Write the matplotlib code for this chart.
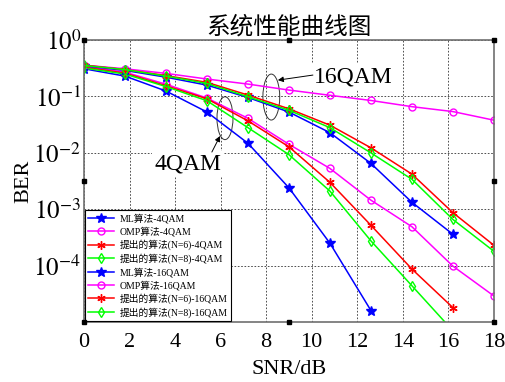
import numpy as np
import matplotlib
matplotlib.use("Agg")
import matplotlib.pyplot as plt
from matplotlib.patches import Ellipse

plt.rcParams['font.family'] = ['Liberation Serif', 'Noto Sans CJK SC']
plt.rcParams['mathtext.fontset'] = 'stix'

snr = [0, 1.8, 3.6, 5.4, 7.2, 9.0, 10.8, 12.6, 14.4, 16.2, 18.0]

ml_4qam = [0.31, 0.23, 0.125, 0.053, 0.0148, 0.0024, 2.5e-4, 1.6e-5]
omp_4qam = [0.34, 0.27, 0.165, 0.094, 0.041, 0.0142, 0.0053, 0.00145, 4.9e-4, 9.8e-5, 2.9e-5]
n6_4qam = [0.33, 0.26, 0.155, 0.091, 0.037, 0.0128, 0.0030, 5.2e-4, 8.7e-5, 1.8e-5]
n8_4qam = [0.32, 0.25, 0.15, 0.084, 0.028, 0.0093, 0.0021, 2.75e-4, 4.4e-5, 7e-6]
ml_16qam = [0.35, 0.29, 0.22, 0.159, 0.096, 0.053, 0.0228, 0.0065, 0.00133, 3.6e-4]
omp_16qam = [0.36, 0.31, 0.257, 0.204, 0.166, 0.130, 0.105, 0.085, 0.066, 0.054, 0.038]
n6_16qam = [0.36, 0.30, 0.235, 0.178, 0.106, 0.0605, 0.031, 0.0123, 0.0042, 8.7e-4, 2.3e-4]
n8_16qam = [0.355, 0.30, 0.23, 0.17, 0.099, 0.057, 0.028, 0.010, 0.0034, 6.6e-4, 1.8e-4]

labels = ['ML算法-4QAM', 'OMP算法-4QAM', '提出的算法(N=6)-4QAM', '提出的算法(N=8)-4QAM',
          'ML算法-16QAM', 'OMP算法-16QAM', '提出的算法(N=6)-16QAM', '提出的算法(N=8)-16QAM']
series = [ml_4qam, omp_4qam, n6_4qam, n8_4qam, ml_16qam, omp_16qam, n6_16qam, n8_16qam]
colors = ['#0000ff', '#ff00ff', '#ff0000', '#00ff00'] * 2
markers = ['*', 'o', (6, 2, 0), 'd'] * 2
msizes = [7.5, 5, 6, 5] * 2
fills = [True, False, True, False] * 2

fig = plt.figure(figsize=(5.05, 3.82), dpi=100)
ax = fig.add_axes([0.1663, 0.157, 0.8117, 0.738])

for ys, lab, c, m, ms, f in zip(series, labels, colors, markers, msizes, fills):
    ax.semilogy(snr[:len(ys)], ys, color=c, marker=m, markersize=ms, lw=1.1,
                markerfacecolor=c if f else 'none', markeredgecolor=c,
                markeredgewidth=1.0, label=lab)

ax.set_xlim(0, 18)
ax.set_ylim(1e-5, 1)
ax.set_xticks(np.arange(0, 19, 2))
ax.set_yticks([1, 1e-1, 1e-2, 1e-3, 1e-4])
ax.set_yticklabels(['$10^{0}$', '$10^{-1}$', '$10^{-2}$', '$10^{-3}$', '$10^{-4}$'])
ax.tick_params(axis='both', which='both', direction='in', length=0)
ax.tick_params(axis='x', labelsize=16, pad=8)
ax.tick_params(axis='y', labelsize=18, pad=2)
ax.grid(True, which='major', color='black', linestyle=(0, (2, 2)), lw=0.6, alpha=0.8)
ax.grid(True, which='minor', axis='y', color='black', linestyle=(0, (2, 2)), lw=0.5, alpha=0.6)
for s in ax.spines.values():
    s.set_color('#707070')
    s.set_linewidth(1.2)

ax.set_title('系统性能曲线图', fontsize=17, pad=5, family=['Noto Sans CJK SC'])
ax.set_xlabel('SNR/dB', fontsize=16)
ax.set_ylabel('BER', fontsize=16)
ax.xaxis.set_label_coords(0.5, -0.135)
ax.yaxis.set_label_coords(-0.124, 0.5)

# ellipses and annotations (axes fraction)
ax.add_patch(Ellipse((0.457, 0.798), 0.041, 0.163, transform=ax.transAxes, fill=False,
                     ec='#333333', lw=0.7))
ax.add_patch(Ellipse((0.344, 0.723), 0.039, 0.152, transform=ax.transAxes, fill=False,
                     ec='#333333', lw=0.7))
ax.text(0.658, 0.868, '16QAM', transform=ax.transAxes, fontsize=17, ha='center', va='center',
        bbox=dict(boxstyle='square,pad=0.1', fc='white', ec='none'))
ax.text(0.254, 0.56, '4QAM', transform=ax.transAxes, fontsize=17, ha='center', va='center',
        bbox=dict(boxstyle='square,pad=0.1', fc='white', ec='none'))
arrow = dict(arrowstyle='-|>', color='black', lw=0.7, mutation_scale=8, shrinkA=0, shrinkB=0)
ax.annotate('', xy=(0.473, 0.858), xytext=(0.5585, 0.876), xycoords='axes fraction',
            textcoords='axes fraction', arrowprops=arrow)
ax.annotate('', xy=(0.332, 0.66), xytext=(0.312, 0.603), xycoords='axes fraction',
            textcoords='axes fraction', arrowprops=arrow)

leg = ax.legend(loc='lower left', bbox_to_anchor=(0.0, 0.0), borderaxespad=0.1,
                fontsize=7, labelspacing=0.33, handlelength=2.6, handletextpad=0.6,
                fancybox=False, framealpha=1, edgecolor='black', borderpad=0.35)
leg.get_frame().set_linewidth(0.8)

# selection handles (MATLAB edit mode)
hx = [0, 0.5, 1, 0, 1, 0, 0.5, 1]
hy = [0, 0, 0, 0.5, 0.5, 1, 1, 1]
ax.plot(hx, hy, 's', color='black', ms=3, transform=ax.transAxes, clip_on=False, zorder=10)

fig.savefig('out.png', dpi=100)
